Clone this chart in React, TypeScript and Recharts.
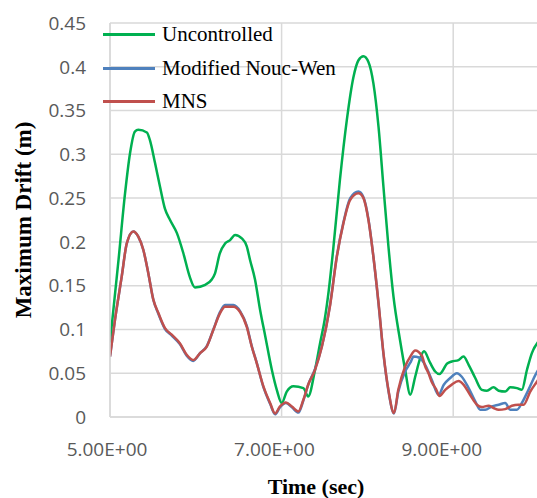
import { CartesianGrid, Legend, Line, LineChart, XAxis, YAxis } from "recharts";

const uncontrolledTime = [
  5.0, 5.1, 5.175, 5.233, 5.29, 5.33, 5.43, 5.466, 5.525, 5.583, 5.64, 5.7, 5.78, 5.855, 5.93, 5.99,
  6.11, 6.186, 6.224, 6.28, 6.34, 6.4, 6.458, 6.536, 6.594, 6.633, 6.69, 6.75, 6.81, 6.886, 6.944,
  7.002, 7.06, 7.138, 7.254, 7.31, 7.39, 7.45, 7.5, 7.55, 7.6, 7.68, 7.76, 7.837, 7.896, 7.954,
  8.012, 8.07, 8.13, 8.187, 8.245, 8.304, 8.38, 8.44, 8.5, 8.557, 8.615, 8.66, 8.73, 8.79, 8.84,
  8.93, 8.984, 9.062, 9.12, 9.18, 9.257, 9.334, 9.393, 9.47, 9.53, 9.606, 9.665, 9.743, 9.8, 9.86,
  9.917, 10.0,
];
const uncontrolledDrift = [
  0.085, 0.18, 0.255, 0.301, 0.326, 0.328, 0.325, 0.316, 0.29, 0.263, 0.238, 0.225, 0.21, 0.187, 0.16,
  0.148, 0.151, 0.157, 0.164, 0.187, 0.198, 0.202, 0.208, 0.204, 0.195, 0.179, 0.157, 0.122, 0.092,
  0.054, 0.031, 0.016, 0.029, 0.035, 0.033, 0.0235, 0.054, 0.085, 0.11, 0.145, 0.19, 0.271, 0.339,
  0.388, 0.4075, 0.412, 0.4055, 0.381, 0.331, 0.263, 0.195, 0.1375, 0.088, 0.054, 0.0254, 0.046,
  0.067, 0.075, 0.062, 0.052, 0.049, 0.061, 0.0634, 0.065, 0.069, 0.0596, 0.0445, 0.031, 0.03,
  0.034, 0.03, 0.029, 0.034, 0.033, 0.031, 0.054, 0.073, 0.087,
];

const noucWenTime = [
  5.0, 5.058, 5.136, 5.195, 5.272, 5.33, 5.388, 5.447, 5.505, 5.563, 5.641, 5.72, 5.816, 5.894, 5.97,
  6.05, 6.128, 6.205, 6.283, 6.34, 6.438, 6.516, 6.594, 6.652, 6.71, 6.788, 6.866, 6.924, 6.98, 7.05,
  7.12, 7.196, 7.254, 7.31, 7.39, 7.47, 7.566, 7.644, 7.72, 7.8, 7.896, 7.954, 8.012, 8.07, 8.13,
  8.187, 8.245, 8.31, 8.36, 8.44, 8.5, 8.54, 8.6, 8.673, 8.75, 8.83, 8.89, 8.965, 9.043, 9.1, 9.18,
  9.257, 9.315, 9.373, 9.45, 9.53, 9.606, 9.665, 9.743, 9.8, 9.877, 9.98, 10.0,
];
const noucWenDrift = [
  0.069, 0.111, 0.16, 0.198, 0.212, 0.206, 0.191, 0.164, 0.134, 0.118, 0.1005, 0.093, 0.083, 0.07,
  0.064, 0.073, 0.081, 0.1, 0.12, 0.128, 0.128, 0.121, 0.104, 0.081, 0.062, 0.034, 0.015, 0.003,
  0.011, 0.016, 0.011, 0.005, 0.019, 0.037, 0.055, 0.081, 0.129, 0.184, 0.222, 0.25, 0.2575, 0.251,
  0.226, 0.183, 0.129, 0.072, 0.03, 0.004, 0.029, 0.052, 0.062, 0.069, 0.068, 0.0596, 0.0425,
  0.0254, 0.0368, 0.0445, 0.05, 0.046, 0.033, 0.0178, 0.0083, 0.0083, 0.012, 0.014, 0.016, 0.0083,
  0.0083, 0.016, 0.031, 0.052, 0.055,
];

const mnsTime = [
  5.0, 5.058, 5.136, 5.195, 5.272, 5.33, 5.388, 5.447, 5.505, 5.563, 5.641, 5.72, 5.816, 5.894, 5.97,
  6.05, 6.128, 6.205, 6.283, 6.34, 6.438, 6.516, 6.594, 6.652, 6.71, 6.788, 6.866, 6.924, 6.98, 7.05,
  7.12, 7.196, 7.254, 7.31, 7.39, 7.47, 7.566, 7.644, 7.72, 7.8, 7.896, 7.954, 8.012, 8.07, 8.13,
  8.187, 8.245, 8.31, 8.36, 8.44, 8.5, 8.557, 8.635, 8.673, 8.712, 8.75, 8.8, 8.84, 8.907, 8.984,
  9.062, 9.12, 9.198, 9.276, 9.334, 9.412, 9.47, 9.53, 9.606, 9.684, 9.76, 9.82, 9.898, 9.98, 10.0,
];
const mnsDrift = [
  0.069, 0.111, 0.16, 0.198, 0.212, 0.206, 0.191, 0.164, 0.134, 0.119, 0.1015, 0.094, 0.084, 0.071,
  0.065, 0.073, 0.0805, 0.0996, 0.1186, 0.126, 0.126, 0.12, 0.103, 0.0805, 0.0616, 0.035, 0.016,
  0.004, 0.012, 0.0167, 0.012, 0.0064, 0.0197, 0.0368, 0.054, 0.0805, 0.128, 0.183, 0.221, 0.248,
  0.2555, 0.25, 0.225, 0.183, 0.13, 0.073, 0.031, 0.0045, 0.031, 0.0577, 0.069, 0.076, 0.07, 0.058,
  0.05, 0.04, 0.032, 0.024, 0.031, 0.037, 0.041, 0.037, 0.025, 0.014, 0.0114, 0.0129, 0.0103,
  0.0083, 0.009, 0.0129, 0.014, 0.014, 0.029, 0.041, 0.044,
];

const xTicks = [5, 7, 9];
const xTickLabels = ["5.00E+00", "7.00E+00", "9.00E+00"];
const yTicks = [0, 0.05, 0.1, 0.15, 0.2, 0.25, 0.3, 0.35, 0.4, 0.45];

const toPoints = (times: number[], drifts: number[]) =>
  times.map((time, i) => ({ time, drift: drifts[i] }));

const series = [
  { name: "Uncontrolled", color: "#00b050", points: toPoints(uncontrolledTime, uncontrolledDrift) },
  { name: "Modified Nouc-Wen", color: "#4f81bd", points: toPoints(noucWenTime, noucWenDrift) },
  { name: "MNS", color: "#c0504d", points: toPoints(mnsTime, mnsDrift) },
];

const tickFont = "'Open Sans', 'Noto Sans', sans-serif";
const serif = "'Liberation Serif', 'Times New Roman', serif";

function TimeTick(props: any) {
  const { x, y, payload, index } = props;
  // excel puts these labels a bit left of their gridlines
  const shift = -3 - (payload.value - 5) * 2.1;
  return (
    <text x={x + shift} y={y + 39} textAnchor="middle" fill="#595959" fontSize={19} fontFamily={tickFont}>
      {xTickLabels[index]}
    </text>
  );
}

// recharts hands the payload back in reverse, so keep the series order
function SeriesLegend({ payload }: any) {
  const items = series.map((s) => (payload || []).find((p: any) => p.value === s.name) || { value: s.name, color: s.color });
  return (
    <div style={{ fontFamily: serif, fontSize: 21, color: "#000" }}>
      {items.map((entry: any) => (
        <div key={entry.value} style={{ display: "flex", alignItems: "center", height: 33.5 }}>
          <span style={{ display: "inline-block", width: 52, height: 3, background: entry.color, marginRight: 7 }} />
          <span style={{ lineHeight: 1 }}>{entry.value}</span>
        </div>
      ))}
    </div>
  );
}

export default function App() {
  return (
    <div style={{ position: "absolute", left: 0, top: 0, width: 537, height: 498, overflow: "hidden", background: "#fff" }}>
      <LineChart width={545} height={498} margin={{ top: 23, right: 6, left: 0, bottom: 0 }}>
        <CartesianGrid stroke="#d9d9d9" strokeWidth={1.5} />
        <XAxis
          type="number"
          dataKey="time"
          domain={[5, 10]}
          ticks={xTicks}
          allowDataOverflow
          height={81}
          tickSize={0}
          tickMargin={0}
          stroke="#d9d9d9"
          strokeWidth={1.5}
          tick={<TimeTick />}
        />
        <YAxis
          type="number"
          domain={[0, 0.45]}
          ticks={yTicks}
          width={110}
          tickSize={0}
          tickMargin={24}
          axisLine={{ stroke: "#d9d9d9", strokeWidth: 1.5 }}
          tick={{ fill: "#595959", fontSize: 19, fontFamily: tickFont }}
          tickFormatter={(v: number) => String(Number(v.toFixed(2)))}
        />
        <Legend
          layout="vertical"
          align="center"
          verticalAlign="middle"
          wrapperStyle={{ left: 103, top: 18, width: 260 }}
          content={<SeriesLegend />}
        />
        {series.map((s) => (
          <Line
            key={s.name}
            name={s.name}
            data={s.points}
            dataKey="drift"
            type="monotone"
            stroke={s.color}
            strokeWidth={2.5}
            dot={false}
            activeDot={false}
            isAnimationActive={false}
          />
        ))}
      </LineChart>
      <div
        style={{
          position: "absolute",
          left: 24 - 150,
          top: 220 - 12,
          width: 300,
          height: 24,
          lineHeight: "24px",
          textAlign: "center",
          transform: "rotate(-90deg)",
          fontFamily: serif,
          fontWeight: "bold",
          fontSize: 23,
        }}
      >
        Maximum Drift (m)
      </div>
      <div
        style={{
          position: "absolute",
          left: 216,
          top: 476,
          width: 200,
          lineHeight: "22px",
          textAlign: "center",
          fontFamily: serif,
          fontWeight: "bold",
          fontSize: 22,
        }}
      >
        Time (sec)
      </div>
    </div>
  );
}
